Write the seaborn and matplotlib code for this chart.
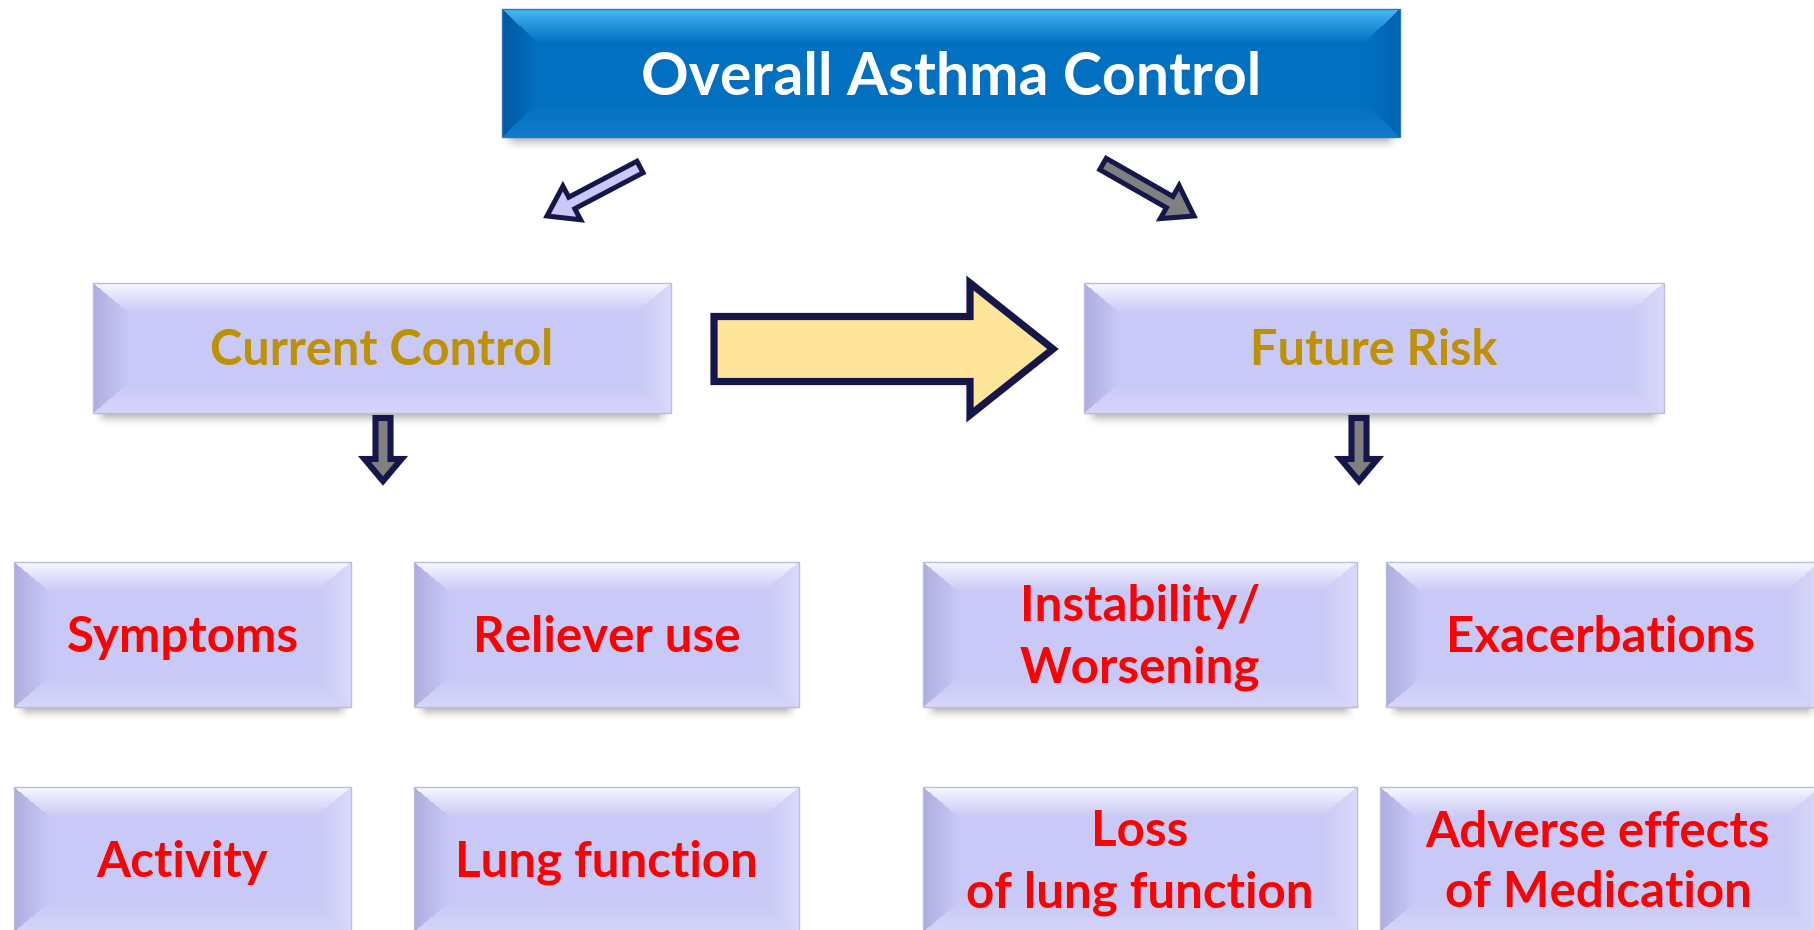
import numpy as np
import matplotlib
matplotlib.use("Agg")
import matplotlib.pyplot as plt
import seaborn as sns
from matplotlib.patches import Polygon, Rectangle

# ---------------- data (text content) ----------------
title_label = "Overall Asthma Control"
branch_labels = ["Current Control", "Future Risk"]
current_items = ["Symptoms", "Reliever use", "Activity", "Lung function"]
future_items = ["Instability/\nWorsening", "Exacerbations",
                "Loss\nof lung function", "Adverse effects\nof Medication"]

# ---------------- style ----------------
sns.set_theme(style="white")
plt.rcParams['font.family'] = ['Lato', 'DejaVu Sans']

W, H = 1814, 930
fig = plt.figure(figsize=(W / 100, H / 100), dpi=100)
ax = fig.add_axes([0, 0, 1, 1])
ax.set_facecolor("white")
sns.despine(ax=ax, left=True, bottom=True)

LAV = dict(center=(201, 201, 247), top=(250, 250, 255), bottom=(214, 214, 250),
           left=(172, 172, 222), right=(218, 218, 253), edge=(188, 188, 222))
BLUE = dict(center=(2, 112, 192), top=(72, 188, 250), bottom=(18, 124, 206),
            left=(0, 88, 160), right=(0, 100, 178), edge=(40, 120, 190))


def bevel_img(w, h, st, bw, bh):
    w = int(round(w)); h = int(round(h))
    x = (np.arange(w) + 0.5)[None, :]
    y = (np.arange(h) + 0.5)[:, None]
    comps = [np.broadcast_to(a, (h, w)) for a in (y / bh, (h - y) / bh, x / bw, (w - x) / bw)]
    stack = np.stack(comps)
    idx = stack.argmin(0)
    m = stack.min(0)
    c = np.array(st['center']) / 255.0
    img = np.empty((h, w, 3))
    img[:] = c
    t = np.clip(m, 0, 1)[..., None] ** 0.9
    for k, key in enumerate(['top', 'bottom', 'left', 'right']):
        e = np.array(st[key]) / 255.0
        col = e * (1 - t) + c * t
        mask = (idx == k) & (m < 1)
        img[mask] = col[mask]
    return img


def shadow(x0, x1, y1, depth=14):
    w = int(round(x1 - x0)); h = depth
    ys = (np.arange(h) + 0.5)[:, None]
    xs = (np.arange(w) + 0.5)[None, :]
    a = 0.5 * np.clip(1 - ys / h, 0, 1) ** 1.6
    fx = np.clip(np.minimum(xs, w - xs) / 12.0, 0, 1)
    img = np.zeros((h, w, 4))
    img[..., :3] = 0.38
    img[..., 3] = a * fx
    ax.imshow(img, extent=(x0 + 2, x1 - 2, y1 + h, y1), zorder=1, interpolation='bilinear')


def box(x0, y0, x1, y1, st, bw=36, bh=30):
    shadow(x0, x1, y1)
    img = bevel_img(x1 - x0, y1 - y0, st, bw, bh)
    ax.imshow(img, extent=(x0, x1, y1, y0), zorder=2, interpolation='bilinear')
    ax.add_patch(Rectangle((x0, y0), x1 - x0, y1 - y0, fill=False,
                           ec=np.array(st['edge']) / 255.0, lw=1.0, zorder=3))


def arrow(tail, tip, shaft_w, head_w, head_len, fc, ec="#16164a", lw=3.6):
    tail = np.array(tail, float); tip = np.array(tip, float)
    d = tip - tail
    L = np.hypot(*d)
    u = d / L
    n = np.array([-u[1], u[0]])
    base = tip - u * head_len
    pts = [tail + n * shaft_w / 2, base + n * shaft_w / 2, base + n * head_w / 2, tip,
           base - n * head_w / 2, base - n * shaft_w / 2, tail - n * shaft_w / 2]
    ax.add_patch(Polygon(pts, closed=True, fc=fc, ec=ec, lw=lw, joinstyle='miter', zorder=4))


# ---------------- layout ----------------
top_box = (502, 9, 1400, 137)
branch_boxes = [(93, 283, 671, 413), (1084, 283, 1664, 413)]
current_boxes = [(14, 562, 351, 707), (414, 562, 799, 707),
                 (14, 787, 351, 932), (414, 787, 799, 932)]
future_boxes = [(923, 562, 1357, 707), (1386, 562, 1820, 707),
                (923, 787, 1357, 932), (1380, 787, 1820, 932)]

GOLD = "#bf9000"
RED = "#ff0000"

# top box
box(*top_box, BLUE, bw=36, bh=34)
ax.text((top_box[0] + top_box[2]) / 2, 78, title_label, color="white", fontsize=42.5,
        fontweight="bold", ha="center", va="center", zorder=5)

# branch boxes
for (x0, y0, x1, y1), lab in zip(branch_boxes, branch_labels):
    box(x0, y0, x1, y1, LAV)
    ax.text((x0 + x1) / 2, (y0 + y1) / 2 + 2, lab, color=GOLD, fontsize=35,
            fontweight="bold", ha="center", va="center", zorder=5)

# item boxes
for (x0, y0, x1, y1), lab in list(zip(current_boxes, current_items)) + list(zip(future_boxes, future_items)):
    box(x0, y0, x1, y1, LAV)
    yc = (y0 + 707 - 562 + y0) / 2
    ax.text((x0 + min(x1, 1816)) / 2, yc + 3, lab, color=RED, fontsize=35.5,
            fontweight="bold", ha="center", va="center", linespacing=1.42,
            multialignment="center", zorder=5)

# arrows
arrow((640, 167), (547, 216), 13, 38, 28, fc="#c9c9f8", lw=3.6)
arrow((1103, 164), (1194, 216), 13, 38, 28, fc="#808080", lw=3.6)
arrow((714, 349), (1053, 349), 65, 132, 83, fc="#fee599", lw=5.2)
arrow((383, 418), (383, 481), 15, 37, 22, fc="#808080", lw=4.4)
arrow((1359, 418), (1359, 481), 15, 37, 22, fc="#808080", lw=4.4)

ax.set_xlim(0, W)
ax.set_ylim(H, 0)
ax.set_aspect('auto')
ax.axis('off')
fig.savefig("out.png", dpi=100, facecolor="white")
